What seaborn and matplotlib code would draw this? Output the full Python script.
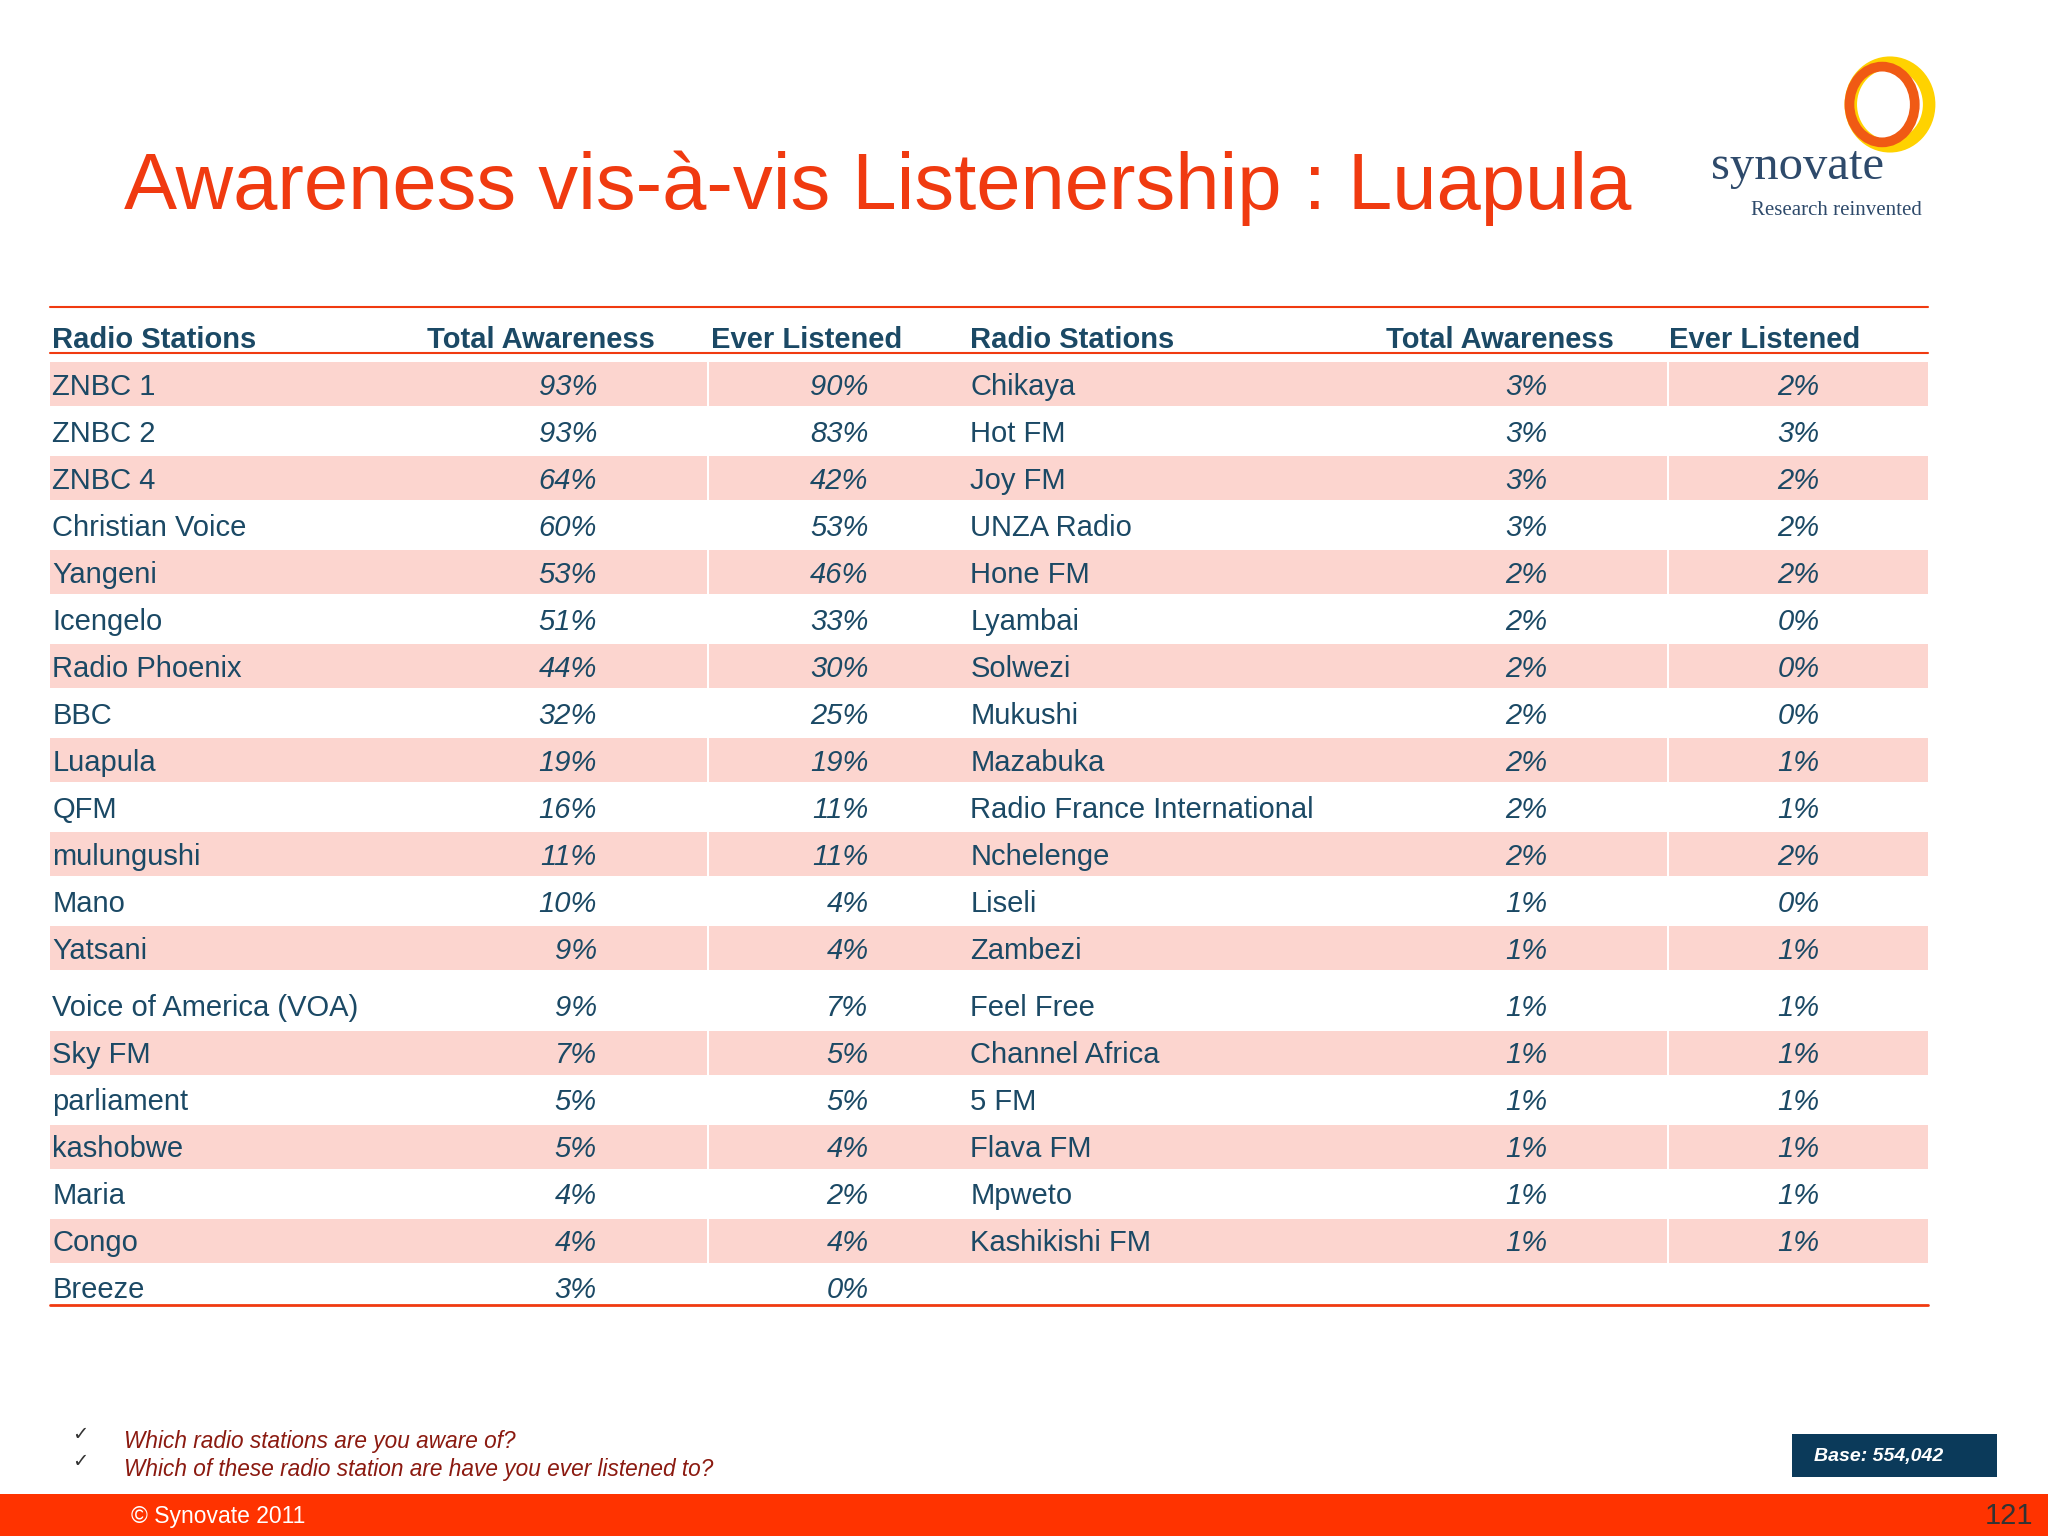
import matplotlib
matplotlib.use("Agg")
import matplotlib.pyplot as plt
from matplotlib.patches import Rectangle, Ellipse
import seaborn as sns

left_names = ["ZNBC 1", "ZNBC 2", "ZNBC 4", "Christian Voice", "Yangeni", "Icengelo",
              "Radio Phoenix", "BBC", "Luapula", "QFM", "mulungushi", "Mano", "Yatsani",
              "Voice of America (VOA)", "Sky FM", "parliament", "kashobwe", "Maria",
              "Congo", "Breeze"]
left_aware = [93, 93, 64, 60, 53, 51, 44, 32, 19, 16, 11, 10, 9, 9, 7, 5, 5, 4, 4, 3]
left_listen = [90, 83, 42, 53, 46, 33, 30, 25, 19, 11, 11, 4, 4, 7, 5, 5, 4, 2, 4, 0]

right_names = ["Chikaya", "Hot FM", "Joy FM", "UNZA Radio", "Hone FM", "Lyambai",
               "Solwezi", "Mukushi", "Mazabuka", "Radio France International",
               "Nchelenge", "Liseli", "Zambezi", "Feel Free", "Channel Africa", "5 FM",
               "Flava FM", "Mpweto", "Kashikishi FM"]
right_aware = [3, 3, 3, 3, 2, 2, 2, 2, 2, 2, 2, 1, 1, 1, 1, 1, 1, 1, 1]
right_listen = [2, 3, 2, 2, 2, 0, 0, 0, 1, 1, 2, 0, 1, 1, 1, 1, 1, 1, 1]

headers = ["Radio Stations", "Total Awareness", "Ever Listened"]

sns.set_theme(style="white")
plt.rcParams["font.family"] = ["Liberation Sans", "DejaVu Sans"]

fig = plt.figure(figsize=(20.48, 15.36), dpi=100)
ax = fig.add_axes([0, 0, 1, 1])
ax.set_xlim(0, 1568)
ax.set_ylim(1176, 0)
ax.axis("off")

red = "#F03A10"
teal = "#1B4965"
pink = "#FCD5CF"

# title and logo
ax.text(95, 144, "Awareness vis-à-vis Listenership : Luapula", color=red,
        fontsize=57.3, va="center", ha="left")
ax.add_patch(Ellipse((1447, 80), 60, 64, fill=False, lw=9, ec="#FFD200"))
ax.add_patch(Ellipse((1441, 80), 50, 58, fill=False, lw=7, ec="#F05A14"))
ax.text(1376, 128, "synovate", family="Liberation Serif", color="#2E4A6B",
        fontsize=35, ha="center", va="center")
ax.text(1406, 161, "Research reinvented", family="Liberation Serif", color="#2E4A6B",
        fontsize=15, ha="center", va="center")

# table rows
def row_y(i):
    return 294 + 36 * i + (8 if i >= 13 else 0)

for i in range(len(left_names)):
    y = row_y(i)
    if i % 2 == 0:
        ax.add_patch(Rectangle((38, y - 17), 1438, 34, color=pink, lw=0))
for xg in (541, 1276):
    for i in range(0, len(left_names), 2):
        ax.add_patch(Rectangle((xg, row_y(i) - 17), 2, 34, color="white", lw=0))

ax.plot([38, 1476], [235, 235], color=red, lw=1.5)
ax.plot([38, 1476], [270, 270], color=red, lw=1.5)
ax.plot([38, 1476], [999, 999], color=red, lw=2)

hx = [(40, 327, 544), (743, 1061, 1278)]
for xs in hx:
    for x, h in zip(xs, headers):
        ax.text(x, 260, h, color=teal, fontsize=21, fontweight="bold", va="center")

for cols, names, aware, listen in [((40, 457, 665), left_names, left_aware, left_listen),
                                   ((743, 1185, 1393), right_names, right_aware, right_listen)]:
    for i, (n, a, l) in enumerate(zip(names, aware, listen)):
        y = row_y(i) + 2
        ax.text(cols[0], y, n, color=teal, fontsize=21, va="center")
        ax.text(cols[1], y, f"{a}%", color=teal, fontsize=21, va="center",
                ha="right", style="italic")
        ax.text(cols[2], y, f"{l}%", color=teal, fontsize=21, va="center",
                ha="right", style="italic")

# questions and footer
for y, q in [(1104, "Which radio stations are you aware of?"),
             (1125, "Which of these radio station are have you ever listened to?")]:
    ax.text(55, y - 6, "✓", family="DejaVu Sans", color="#333333", fontsize=14, va="center")
    ax.text(95, y, q, color="#8B1A10", fontsize=16.3, style="italic", va="center")

ax.add_patch(Rectangle((1372, 1098), 157, 33, color="#0B3A5A", lw=0))
ax.text(1438, 1115, "Base: 554,042", color="white", fontsize=14, fontweight="bold",
        style="italic", ha="center", va="center")

ax.add_patch(Rectangle((0, 1144), 1568, 32, color="#FF3300", lw=0))
ax.text(100, 1161, "© Synovate 2011", color="white", fontsize=16.5, va="center")
ax.text(1557, 1161, "121", color="#333333", fontsize=21, va="center", ha="right")

fig.savefig("out.png", dpi=100)
plt.close()
